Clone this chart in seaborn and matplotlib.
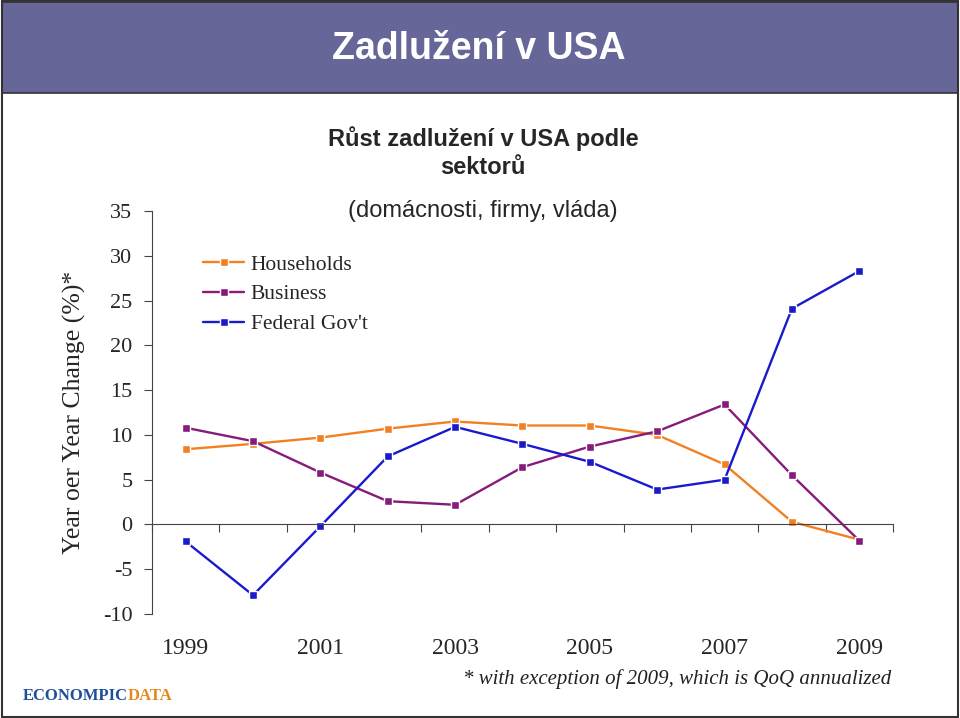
import numpy as np
import pandas as pd
import matplotlib
matplotlib.use("Agg")
import matplotlib.pyplot as plt
from matplotlib.patches import Rectangle
import matplotlib.transforms as mtransforms
import seaborn as sns

years = list(range(1999, 2010))
households = [8.4, 9.0, 9.7, 10.7, 11.5, 11.05, 11.05, 10.0, 6.7, 0.3, -1.7]
business = [10.8, 9.3, 5.8, 2.6, 2.2, 6.4, 8.7, 10.4, 13.4, 5.5, -1.8]
federal = [-1.9, -7.9, -0.2, 7.6, 10.9, 9.0, 7.0, 3.9, 5.0, 24.1, 28.3]
series_names = ["Households", "Business", "Federal Gov't"]
x_labels = ["1999", "2001", "2003", "2005", "2007", "2009"]
y_ticks = [-10, -5, 0, 5, 10, 15, 20, 25, 30, 35]

df = pd.DataFrame({
    "year": years * 3,
    "value": households + business + federal,
    "sector": [series_names[0]] * 11 + [series_names[1]] * 11 + [series_names[2]] * 11,
})

sns.set_style("white")
plt.rcParams["font.family"] = ["Liberation Sans", "DejaVu Sans"]

fig = plt.figure(figsize=(9.6, 7.18), dpi=100)
fig.patch.set_facecolor("white")

# header band
fig.patches.append(Rectangle((0.002, 0.8705), 0.996, 0.127, transform=fig.transFigure,
                             facecolor="#666699", edgecolor="#333333", linewidth=1.2, zorder=0))
# outer frame
fig.patches.append(Rectangle((0.002, 0.002), 0.996, 0.996, transform=fig.transFigure,
                             facecolor="none", edgecolor="#333333", linewidth=1.5, zorder=5))

fig.text(0.499, 0.932, "Zadlužení v USA", color="white", fontsize=27, fontweight="bold",
         ha="center", va="center", family=["Liberation Sans", "DejaVu Sans"])
fig.text(0.503, 0.807, "Růst zadlužení v USA podle", fontsize=17, fontweight="bold",
         ha="center", va="center")
fig.text(0.503, 0.767, "sektorů", fontsize=17, fontweight="bold", ha="center", va="center")
fig.text(0.503, 0.706, "(domácnosti, firmy, vláda)", fontsize=17, ha="center", va="center")

ax = fig.add_axes([0.1583, 0.1448, 0.7719, 0.5613])
palette = {"Households": "#F28022", "Business": "#861B7C", "Federal Gov't": "#1A1ACC"}
sns.lineplot(data=df, x="year", y="value", hue="sector", palette=palette, marker="s",
             markersize=6, linewidth=1.7, markeredgewidth=1.0, ax=ax)

ax.set_xlim(1998.5, 2009.5)
ax.set_ylim(-10, 35)
ax.set_yticks(y_ticks)
ax.set_yticklabels([str(v) for v in y_ticks], family="Liberation Serif", fontsize=16)
ax.set_ylabel("Year oer Year Change (%)*", family="Liberation Serif", fontsize=18.5, labelpad=12)
ax.set_xlabel("")

for s in ["top", "right"]:
    ax.spines[s].set_visible(False)
ax.spines["left"].set_color("#444444")
ax.spines["bottom"].set_color("#444444")
ax.spines["bottom"].set_position(("data", 0))
ax.set_xticks(np.arange(1998.5, 2010.0, 1.0))
ax.set_xticklabels([])
ax.tick_params(axis="x", which="major", bottom=True, length=6, direction="out", color="#444444")
ax.tick_params(axis="y", left=True, length=6, direction="out", color="#444444", pad=8)

trans = mtransforms.blended_transform_factory(ax.transData, ax.transAxes)
for lab in x_labels:
    ax.text(int(lab), -0.085, lab, transform=trans, ha="center", va="center",
            family="Liberation Serif", fontsize=17)

handles, labels = ax.get_legend_handles_labels()
leg = ax.legend(handles, labels, loc="upper left", bbox_to_anchor=(0.043, 0.94), frameon=False,
                prop={"family": "Liberation Serif", "size": 15.5}, handlelength=1.9,
                labelspacing=0.45, handletextpad=0.3)

fig.text(0.928, 0.054, "* with exception of 2009, which is QoQ annualized",
         family="Liberation Serif", style="italic", fontsize=15, ha="right", va="center",
         color="#222222")

# logo
t1 = fig.text(0.024, 0.031, "ECONOMPIC", family="Liberation Serif", fontweight="bold",
              fontsize=12, color="#1F4E9A", ha="left", va="center")
fig.canvas.draw()
bb = t1.get_window_extent(fig.canvas.get_renderer())
x_end = bb.x1 / fig.bbox.width
fig.text(x_end, 0.031, "DATA", family="Liberation Serif", fontweight="bold",
         fontsize=12, color="#E08A1E", ha="left", va="center")

fig.savefig("out.png", dpi=100)
